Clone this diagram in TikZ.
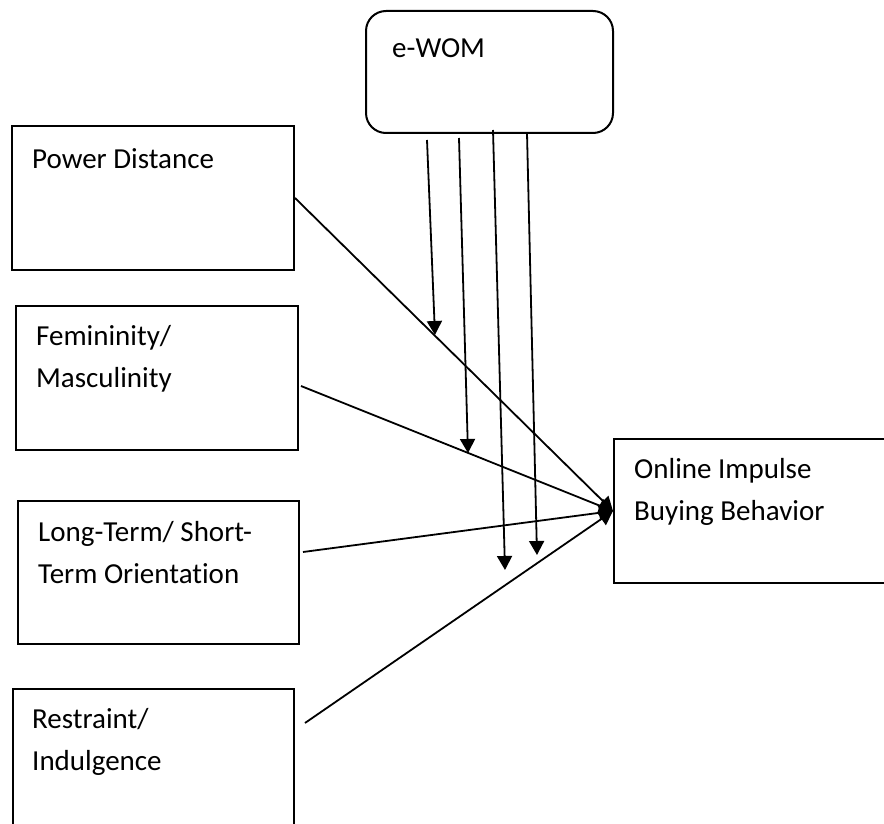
\documentclass[tikz,border=0pt]{standalone}
\usepackage{fontspec}
\setmainfont[Ligatures=NoCommon]{Carlito}
\usetikzlibrary{arrows.meta}

\tikzset{
  box/.style={draw, line width=2pt, anchor=north west, inner sep=0pt},
  txt/.style={anchor=north west, align=left, inner sep=0pt,
    font=\fontsize{29}{42.5}\selectfont},
  link/.style={line width=1.8pt, -{Triangle[length=14pt,width=15pt]}},
}

\begin{document}
\begin{tikzpicture}[x=1pt,y=-1pt]
  \useasboundingbox (0,0) rectangle (884,824);
  % boxes
  \node[box, rounded corners=20pt, minimum width=247, minimum height=122] (ewom) at (365,10) {};
  \node[box, minimum width=282, minimum height=144] (pd) at (11,125) {};
  \node[box, minimum width=282, minimum height=144] (fm) at (15,305) {};
  \node[box, minimum width=281, minimum height=143] (lt) at (17,500) {};
  \node[box, minimum width=281, minimum height=150] (rs) at (12,688) {};
  \node[box, minimum width=290, minimum height=144] (oib) at (613,438) {};
  % texts
  \node[txt] (ewomt) at ([shift={(27,28)}]ewom.north west) {e-WOM};
  \node[txt] (pdt) at ([shift={(21,23)}]pd.north west) {Power Distance};
  \node[txt] (fmt) at ([shift={(21,20)}]fm.north west) {Femininity/\\Masculinity};
  \node[txt] (ltt) at ([shift={(21,21)}]lt.north west) {Long-Term/ Short-\\Term Orientation};
  \node[txt] (rst) at ([shift={(20,20)}]rs.north west) {Restraint/\\Indulgence};
  \node[txt] (oibt) at ([shift={(21,20)}]oib.north west) {Online Impulse\\Buying Behavior};
  % tails
  \coordinate (fmout) at (301,386);
  \coordinate (ltout) at (303,552);
  \coordinate (rsout) at (305,723);
  \draw[link] (pd.east) -- (oib.west);
  \draw[link] (fmout) -- (oib.west);
  \draw[link] (ltout) -- (oib.west);
  \draw[link] (rsout) -- (oib.west);
  % moderating arrows
  \coordinate (m1) at (427,140);
  \coordinate (m2) at (459,138);
  \coordinate (m3) at (493,130);
  \coordinate (m4) at (527,133);
  \coordinate (e1) at (435,335);
  \coordinate (e2) at (468,453);
  \coordinate (e3) at (505,570);
  \coordinate (e4) at (537,555);
  \draw[link] (m1) -- (e1);
  \draw[link] (m2) -- (e2);
  \draw[link] (m3) -- (e3);
  \draw[link] (m4) -- (e4);
\end{tikzpicture}
\end{document}
